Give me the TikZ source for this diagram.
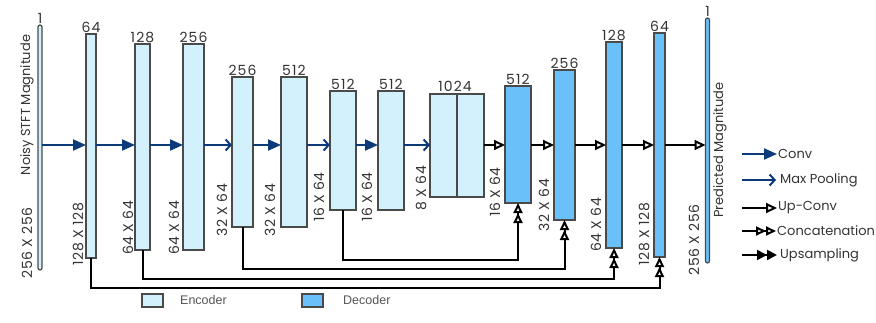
\documentclass[tikz,border=0pt]{standalone}
\usepackage{fontspec}
\setmainfont{Poppins}
\newfontfamily\legfont{Liberation Sans}
\usetikzlibrary{arrows.meta}
\definecolor{encfill}{HTML}{D2F1FD}
\definecolor{decfill}{HTML}{6AC1F9}
\definecolor{boxline}{HTML}{4A4A4A}
\definecolor{convblue}{HTML}{0D3B7A}
\definecolor{txt}{HTML}{333333}
\definecolor{legtxt}{HTML}{555555}
\begin{document}
\begin{tikzpicture}[x=1pt,y=-1pt,
  blk/.style={draw=boxline,line width=1.2pt,inner sep=0pt,outer sep=0pt},
  enc/.style={blk,fill=encfill},
  dec/.style={blk,fill=decfill},
  toplab/.style={font=\fontsize{14}{14}\selectfont\addfontfeature{LetterSpace=8},text=txt,inner sep=1pt},
  dimlab/.style={font=\fontsize{14}{14}\selectfont\addfontfeature{LetterSpace=4},text=txt,rotate=90,inner sep=0pt},
  ttllab/.style={font=\fontsize{13}{14}\selectfont,text=txt,rotate=90,inner sep=0pt},
  legtext/.style={font=\fontsize{13}{13}\selectfont,text=txt,inner sep=1pt,anchor=west},
  legbox/.style={font=\legfont\fontsize{12.5}{13}\selectfont,text=legtxt,inner sep=0pt,anchor=west},
  convarr/.style={draw=convblue,line width=2pt,-{Triangle[length=13pt,width=11pt]}},
  poolarr/.style={draw=convblue,line width=2pt,-{Straight Barb[length=5pt,width=11pt]}},
  uparr/.style={draw=black,line width=2pt,-{Triangle[open,length=11pt,width=10pt,fill=white]}},
  catarr/.style={draw=black,line width=2pt,-{Triangle[open,length=10pt,width=9pt,fill=white] Triangle[open,length=10pt,width=9pt,fill=white]}},
  usarr/.style={draw=black,line width=2pt,-{Triangle[length=10pt,width=10pt] Triangle[length=10pt,width=10pt]}}
]
\useasboundingbox (0,0) rectangle (876,322);

% input / output bars
\node[enc,rounded corners=2pt,minimum width=4pt,minimum height=245pt,label={[toplab]above:1}] (in) at (40,147.5) {};
\node[dec,rounded corners=2pt,minimum width=4pt,minimum height=245pt,label={[toplab]above:1}] (out) at (707.5,140.5) {};

% encoder
\node[enc,minimum width=10pt,minimum height=224pt,label={[toplab]above:64}] (e1) at (91,146) {};
\node[enc,minimum width=15pt,minimum height=206pt,label={[toplab]above:128}] (e2) at (142.5,147) {};
\node[enc,minimum width=21pt,minimum height=206pt,label={[toplab]above:256}] (e3) at (193.5,147) {};
\node[enc,minimum width=21pt,minimum height=150pt,label={[toplab]above:256}] (e4) at (242.5,152) {};
\node[enc,minimum width=26pt,minimum height=150pt,label={[toplab]above:512}] (e5) at (294,152) {};
\node[enc,minimum width=26pt,minimum height=119pt,label={[toplab]above:512}] (e6) at (343,150.5) {};
\node[enc,minimum width=26pt,minimum height=119pt,label={[toplab]above:512}] (e7) at (391,150.5) {};
\node[enc,minimum width=27pt,minimum height=103pt] (b1) at (443.5,145.5) {};
\node[enc,minimum width=27pt,minimum height=103pt] (b2) at (470.5,145.5) {};
\node[toplab,anchor=south] (bl) at (455,93) {1024};

% decoder
\node[dec,minimum width=26pt,minimum height=117pt,label={[toplab]above:512}] (d1) at (518,144.5) {};
\node[dec,minimum width=21pt,minimum height=150pt,label={[toplab]above:256}] (d2) at (564.5,145) {};
\node[dec,minimum width=16pt,minimum height=206pt,label={[toplab]above:128}] (d3) at (614,145) {};
\node[dec,minimum width=11pt,minimum height=224pt,label={[toplab]above:64}] (d4) at (659.5,145) {};

% dimension labels
\node[ttllab] (tin) at (27,105) {Noisy STFT Magnitude};
\node[dimlab] (din) at (27,243) {256 X 256};
\node[dimlab] (de1) at (78,234) {128 X 128};
\node[dimlab] (de2) at (128,228) {64 X 64};
\node[dimlab] (de3) at (174,228) {64 X 64};
\node[dimlab] (de4) at (222,210) {32 X 64};
\node[dimlab] (de5) at (270,210) {32 X 64};
\node[dimlab] (de6) at (319,197) {16 X 64};
\node[dimlab] (de7) at (367,197) {16 X 64};
\node[dimlab] (db) at (421,188) {8 X 64};
\node[dimlab] (dd1) at (495,192) {16 X 64};
\node[dimlab] (dd2) at (544,205) {32 X 64};
\node[dimlab] (dd3) at (596,225) {64 X 64};
\node[dimlab] (dd4) at (644,234) {128 X 128};
\node[dimlab] (dout) at (694,240) {256 X 256};
\node[ttllab] (tout) at (720,150) {Predicted Magnitude};

% main flow
\coordinate (ax) at (0,145);
\draw[convarr] (in.east |- ax) -- (e1.west |- ax);
\draw[convarr] (e1.east |- ax) -- (e2.west |- ax);
\draw[convarr] (e2.east |- ax) -- (e3.west |- ax);
\draw[poolarr] (e3.east |- ax) -- (e4.west |- ax);
\draw[convarr] (e4.east |- ax) -- (e5.west |- ax);
\draw[poolarr] (e5.east |- ax) -- (e6.west |- ax);
\draw[convarr] (e6.east |- ax) -- (e7.west |- ax);
\draw[poolarr] (e7.east |- ax) -- (b1.west |- ax);
\draw[uparr] (b2.east |- ax) -- (d1.west |- ax);
\draw[uparr] (d1.east |- ax) -- (d2.west |- ax);
\draw[uparr] (d2.east |- ax) -- (d3.west |- ax);
\draw[uparr] (d3.east |- ax) -- (d4.west |- ax);
\draw[uparr] (d4.east |- ax) -- (out.west |- ax);

% skip connections
\coordinate (s1) at (0,260);
\coordinate (s2) at (0,269);
\coordinate (s3) at (0,279);
\coordinate (s4) at (0,288);
\draw[catarr] (e6.south) -- (e6.south |- s1) -| (d1.south);
\draw[catarr] (e4.south) -- (e4.south |- s2) -| (d2.south);
\draw[catarr] (e2.south) -- (e2.south |- s3) -| (d3.south);
\draw[catarr] (e1.south) -- (e1.south |- s4) -| (d4.south);

% bottom legend
\node[enc,minimum width=21pt,minimum height=13pt] (lenc) at (152.5,300.5) {};
\node[legbox] (lenct) at (180,300.5) {Encoder};
\node[dec,minimum width=21pt,minimum height=13pt] (ldec) at (312.5,300.5) {};
\node[legbox] (ldect) at (343,300.5) {Decoder};

% right legend
\node[legtext] (l1) at (777,154) {Conv};
\node[legtext] (l2) at (779,180) {Max Pooling};
\node[legtext] (l3) at (777,208) {Up-Conv};
\node[legtext] (l4) at (776,231) {Concatenation};
\node[legtext] (l5) at (779,255) {Upsampling};
\coordinate (k1) at (742,154);
\coordinate (k2) at (742,180);
\coordinate (k3) at (742,208);
\coordinate (k4) at (742,231);
\coordinate (k5) at (742,255);
\draw[convarr] (k1) -- (l1.west);
\draw[poolarr] (k2) -- ([xshift=-3pt]l2.west);
\draw[uparr] (k3) -- (l3.west);
\draw[catarr] (k4) -- (l4.west);
\draw[usarr] (k5) -- ([xshift=-2pt]l5.west);
\end{tikzpicture}
\end{document}
